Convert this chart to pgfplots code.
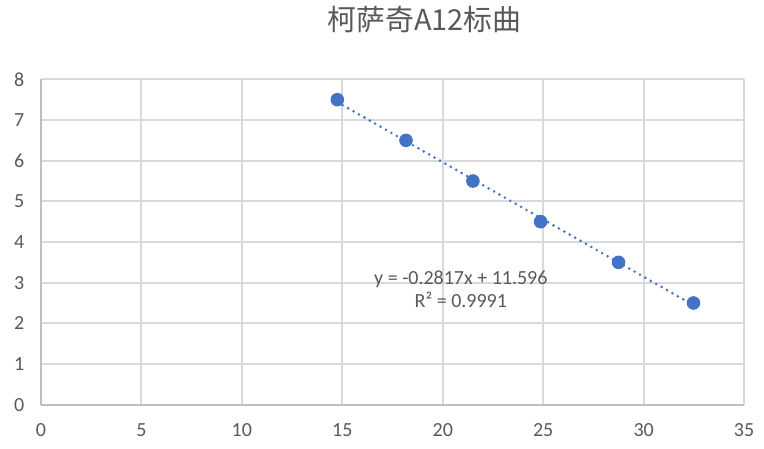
\documentclass[border=0pt]{standalone}
\usepackage{fontspec}
\setmainfont{Carlito}
\newfontfamily\cjk{Noto Sans CJK SC}
\usepackage{pgfplots}
\pgfplotsset{compat=1.18}

\definecolor{ptblue}{HTML}{4472C4}
\definecolor{gridgray}{HTML}{D9D9D9}
\definecolor{axgray}{HTML}{BFBFBF}
\definecolor{txtgray}{HTML}{595959}

\begin{document}
\begin{tikzpicture}
\useasboundingbox (-18.45pt,-19.9pt) rectangle (325.35pt,182.1pt);
\begin{axis}[
    scale only axis,
    width=316.4pt, height=146.4pt,
    xmin=0, xmax=35, ymin=0, ymax=8,
    xtick={0,5,...,35}, ytick={0,1,...,8},
    axis x line=bottom, axis y line=left,
    axis line style={draw=axgray, line width=0.9pt, -},
    major tick length=0pt,
    grid=major,
    major grid style={draw=gridgray, line width=0.9pt},
    tick label style={font=\fontsize{9}{11}\selectfont, text=txtgray},
    /pgf/number format/assume math mode=true,
    xticklabel style={yshift=-5pt},
    yticklabel style={xshift=-4pt},
    title={\cjk 柯萨奇A12标曲},
    title style={font=\cjk\fontsize{13}{15}\selectfont, text=txtgray,
        at={(axis description cs:0.5455,1.143)}, anchor=center},
    clip=false,
]
% trendline endpoints from y = -0.2817x + 11.596
\addplot[ptblue, line width=1.3pt, line cap=round,
    dash pattern=on 0pt off 2.8pt] coordinates {(14.75,7.441) (32.48,2.446)};
\addplot[only marks, mark=*, mark size=2.85pt,
    mark options={fill=ptblue, draw=ptblue}] coordinates {
    (14.75,7.5) (18.17,6.5) (21.5,5.5) (24.87,4.5) (28.75,3.5) (32.48,2.5)};
\node[align=center, font=\fontsize{9}{10.2}\selectfont, text=txtgray]
    at (axis cs:20.9,2.84) {y = -0.2817x + 11.596\\R² = 0.9991};
\end{axis}
\end{tikzpicture}
\end{document}
